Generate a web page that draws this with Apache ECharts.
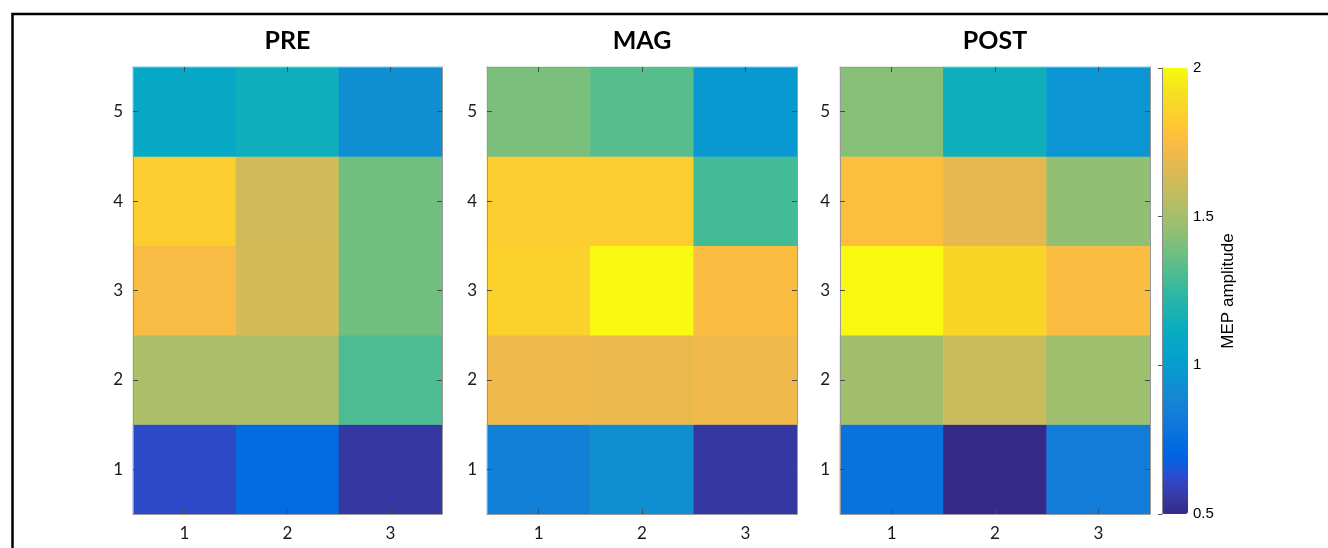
<!DOCTYPE html>
<html>
<head>
<meta charset="utf-8">
<script src="https://cdn.jsdelivr.net/npm/echarts@6/dist/echarts.min.js"></script>
<style>
html,body{margin:0;padding:0;background:#fff;}
#main{width:1328px;height:548px;}
</style>
</head>
<body>
<div id="main"></div>
<script>
// ---- data ----
var panelTitles = ['PRE', 'MAG', 'POST'];
var xCategories = ['1', '2', '3'];
var yCategories = ['1', '2', '3', '4', '5'];
// values per row (y = 1..5), each row lists columns x = 1..3
var preValues = [
  [0.62, 0.73, 0.55],
  [1.52, 1.52, 1.31],
  [1.74, 1.63, 1.38],
  [1.83, 1.62, 1.38],
  [1.08, 1.14, 0.93]
];
var magValues = [
  [0.85, 0.93, 0.55],
  [1.71, 1.69, 1.71],
  [1.85, 1.99, 1.75],
  [1.83, 1.83, 1.29],
  [1.40, 1.33, 0.98]
];
var postValues = [
  [0.77, 0.50, 0.83],
  [1.49, 1.60, 1.48],
  [1.99, 1.87, 1.75],
  [1.76, 1.68, 1.45],
  [1.43, 1.14, 0.96]
];
var colorMin = 0.5, colorMax = 2, colorStep = 0.5;
var colorbarLabel = 'MEP amplitude';

// ---- parula colormap ----
var parula = [
[0.2081,0.1663,0.5292],[0.2116,0.1898,0.5777],[0.2123,0.2138,0.6270],[0.2081,0.2386,0.6771],
[0.1959,0.2645,0.7279],[0.1707,0.2919,0.7792],[0.1253,0.3242,0.8303],[0.0591,0.3598,0.8683],
[0.0117,0.3875,0.8820],[0.0060,0.4086,0.8828],[0.0165,0.4266,0.8786],[0.0329,0.4430,0.8720],
[0.0498,0.4586,0.8641],[0.0629,0.4737,0.8554],[0.0723,0.4887,0.8467],[0.0779,0.5040,0.8384],
[0.0793,0.5200,0.8312],[0.0749,0.5375,0.8263],[0.0641,0.5570,0.8240],[0.0488,0.5772,0.8228],
[0.0343,0.5966,0.8199],[0.0265,0.6137,0.8135],[0.0239,0.6287,0.8038],[0.0231,0.6418,0.7913],
[0.0228,0.6535,0.7768],[0.0267,0.6642,0.7607],[0.0384,0.6743,0.7436],[0.0590,0.6838,0.7254],
[0.0843,0.6928,0.7062],[0.1133,0.7015,0.6859],[0.1453,0.7098,0.6646],[0.1801,0.7177,0.6424],
[0.2178,0.7250,0.6193],[0.2586,0.7317,0.5954],[0.3022,0.7376,0.5712],[0.3482,0.7424,0.5473],
[0.3953,0.7459,0.5244],[0.4420,0.7481,0.5033],[0.4871,0.7491,0.4840],[0.5300,0.7491,0.4661],
[0.5709,0.7485,0.4494],[0.6099,0.7473,0.4337],[0.6473,0.7456,0.4188],[0.6834,0.7435,0.4044],
[0.7184,0.7411,0.3905],[0.7525,0.7384,0.3768],[0.7858,0.7356,0.3633],[0.8185,0.7327,0.3498],
[0.8507,0.7299,0.3360],[0.8824,0.7274,0.3217],[0.9139,0.7258,0.3063],[0.9450,0.7261,0.2886],
[0.9739,0.7314,0.2666],[0.9938,0.7455,0.2403],[0.9990,0.7653,0.2164],[0.9955,0.7861,0.1967],
[0.9880,0.8066,0.1794],[0.9789,0.8271,0.1633],[0.9697,0.8481,0.1475],[0.9626,0.8705,0.1309],
[0.9589,0.8949,0.1132],[0.9598,0.9218,0.0948],[0.9661,0.9514,0.0755],[0.9763,0.9831,0.0538]
].map(function (c) {
  return 'rgb(' + Math.round(c[0]*255) + ',' + Math.round(c[1]*255) + ',' + Math.round(c[2]*255) + ')';
});

// ---- layout ----
var panels = [
  {left: 133, width: 309},
  {left: 487, width: 310},
  {left: 840, width: 310}
];
var plotTop = 67, plotHeight = 447;
var tickFont = 'Lato, "Open Sans", sans-serif';
var axisColor = '#9a9a9a';
var tickColor = '#4a4a4a';

var allValues = [preValues, magValues, postValues];
var grids = [], xAxes = [], yAxes = [], series = [], titles = [];

panels.forEach(function (p, i) {
  grids.push({left: p.left, top: plotTop, width: p.width, height: plotHeight});
  titles.push({
    text: panelTitles[i], left: p.left + p.width / 2, top: 28, textAlign: 'center', padding: 0,
    textStyle: {fontFamily: tickFont, fontWeight: 'bold', fontSize: 25, color: '#000'}
  });
  ['bottom', 'top'].forEach(function (pos) {
    xAxes.push({
      type: 'category', gridIndex: i, position: pos, data: xCategories, z: 5,
      axisLine: {show: true, lineStyle: {color: axisColor, width: 1}},
      axisTick: {show: true, inside: true, alignWithLabel: true, length: 5, lineStyle: {color: tickColor}},
      axisLabel: {show: pos === 'bottom', fontFamily: tickFont, fontSize: 17, color: '#1a1a1a', margin: 11},
      splitLine: {show: false}
    });
  });
  ['left', 'right'].forEach(function (pos) {
    yAxes.push({
      type: 'category', gridIndex: i, position: pos, data: yCategories, z: 5,
      axisLine: {show: true, lineStyle: {color: axisColor, width: 1}},
      axisTick: {show: true, inside: true, alignWithLabel: true, length: 5, lineStyle: {color: tickColor}},
      axisLabel: {show: pos === 'left', fontFamily: tickFont, fontSize: 17, color: '#1a1a1a', margin: 10},
      splitLine: {show: false}
    });
  });
  var data = [];
  allValues[i].forEach(function (row, yi) {
    row.forEach(function (v, xi) { data.push([xi, yi, v]); });
  });
  series.push({
    type: 'heatmap', name: panelTitles[i], xAxisIndex: 2 * i, yAxisIndex: 2 * i,
    data: data, progressive: 0, emphasis: {disabled: true}
  });
});

// colorbar axis
grids.push({left: 1162, top: 68, width: 26, height: 446});
xAxes.push({type: 'value', gridIndex: 3, show: false, min: 0, max: 1});
yAxes.push({
  type: 'value', gridIndex: 3, position: 'right', min: colorMin, max: colorMax, interval: colorStep, z: 10,
  name: colorbarLabel, nameLocation: 'middle', nameRotate: 90, nameGap: 32,
  nameTextStyle: {fontFamily: '"Liberation Sans", Arial, sans-serif', fontSize: 17, color: '#000'},
  axisLine: {show: true, lineStyle: {color: '#888'}},
  axisTick: {show: true, inside: true, length: 4, lineStyle: {color: '#555'}},
  axisLabel: {fontFamily: '"Liberation Sans", Arial, sans-serif', fontSize: 15, color: '#000', margin: 5},
  splitLine: {show: false}
});
yAxes.push({
  type: 'value', gridIndex: 3, position: 'left', min: colorMin, max: colorMax, interval: colorStep, z: 10,
  axisLine: {show: true, lineStyle: {color: '#888'}},
  axisTick: {show: false}, axisLabel: {show: false}, splitLine: {show: false}
});

var chart = echarts.init(document.getElementById('main'), null, {renderer: 'canvas'});
chart.setOption({
  animation: false,
  backgroundColor: '#fff',
  title: titles,
  grid: grids,
  xAxis: xAxes,
  yAxis: yAxes,
  visualMap: {
    type: 'continuous', min: colorMin, max: colorMax, seriesIndex: [0, 1, 2],
    calculable: false, orient: 'vertical', left: 1162, top: 68, padding: 0,
    itemWidth: 26, itemHeight: 446, text: null, showLabel: false, hoverLink: false,
    inRange: {color: parula}
  },
  graphic: [{
    type: 'rect', silent: true, z: 100,
    shape: {x: 12.5, y: 14, width: 1400, height: 600},
    style: {fill: 'none', stroke: '#000', lineWidth: 2.5}
  }],
  series: series
});
</script>
</body>
</html>
